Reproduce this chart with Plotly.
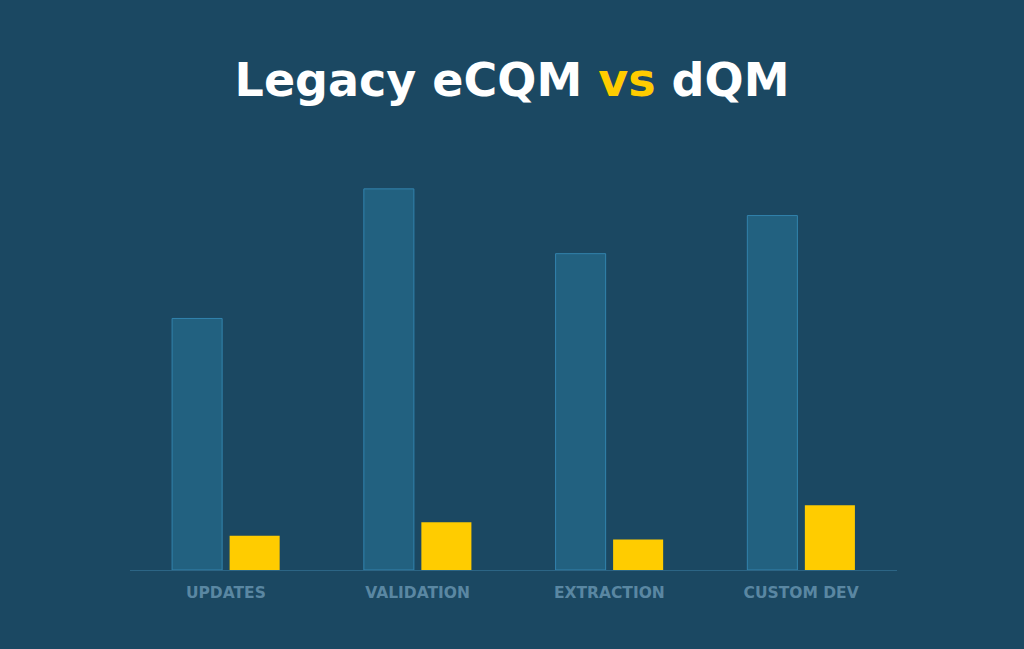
import plotly.graph_objects as go

CATEGORIES = ['UPDATES', 'VALIDATION', 'EXTRACTION', 'CUSTOM DEV']
LEGACY_ECQM = [66, 100, 83, 93]
DQM = [9, 12.5, 8, 17]

BG = '#1b4862'
COLORS = {
    'legacy': '#226180',
    'legacy_edge': '#3283ad',
    'dqm': '#ffcc00',
    'axis': '#2c6585',
    'label': '#5a87a2',
}

fig = go.Figure()

fig.add_trace(
    go.Bar(
        x=CATEGORIES,
        y=LEGACY_ECQM,
        name='Legacy eCQM',
        marker=dict(color=COLORS['legacy'], line=dict(color=COLORS['legacy_edge'], width=1)),
    )
)
fig.add_trace(
    go.Bar(
        x=CATEGORIES,
        y=DQM,
        name='dQM',
        marker=dict(color=COLORS['dqm'], line=dict(width=0)),
    )
)

fig.update_layout(
    width=1024,
    height=649,
    paper_bgcolor=BG,
    plot_bgcolor=BG,
    showlegend=False,
    barmode='group',
    bargap=0.4,
    bargroupgap=0.13,
    margin=dict(l=130, r=127, t=150, b=79),
    title=dict(
        text="Legacy eCQM <span style='color:#ffcc00'>vs</span> dQM",
        x=0.5,
        xanchor='center',
        y=0.877,
        yanchor='middle',
        font=dict(family='DejaVu Sans', size=46, color='white', weight='bold'),
    ),
    xaxis=dict(
        showline=True,
        linecolor=COLORS['axis'],
        linewidth=1,
        showgrid=False,
        ticks='',
        ticklabelstandoff=8,
        tickfont=dict(family='DejaVu Sans', size=15.5, color=COLORS['label'], weight='bold'),
    ),
    yaxis=dict(
        range=[0, 110.2],
        visible=False,
        showgrid=False,
        zeroline=False,
    ),
)

# page body margin off so the figure sits flush in the window
fig.write_html(
    'out.html',
    config=dict(displayModeBar=False),
    post_script="document.body.style.margin='0';document.body.style.overflow='hidden';",
)
